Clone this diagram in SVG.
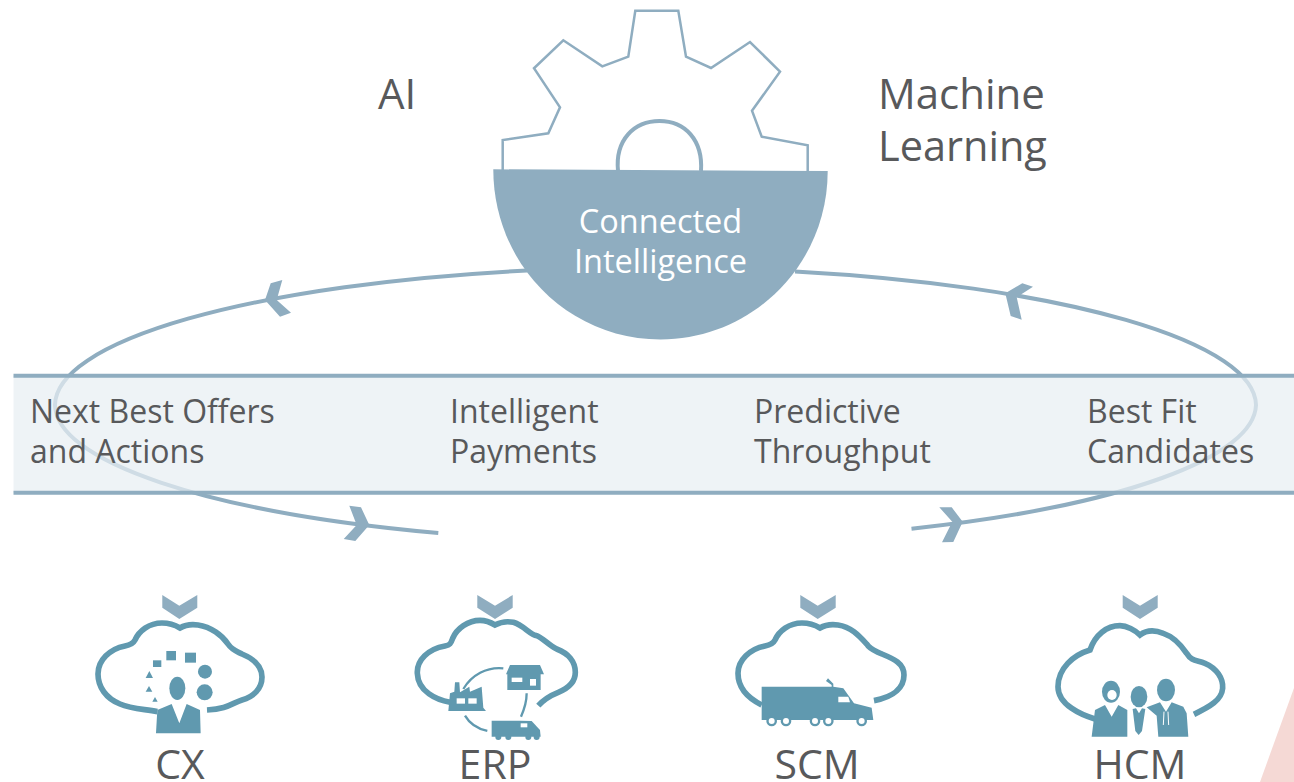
<svg xmlns="http://www.w3.org/2000/svg" width="1294" height="782" viewBox="0 0 1294 782">
<style>
text{font-family:"Open Sans","Liberation Sans",sans-serif;fill:#58595b}
.big{font-size:42px}
.mid{font-size:32px}
.wh{fill:#fff;font-size:32.5px;text-anchor:middle}
.ctr{font-size:41px;text-anchor:middle}
.conn{fill:none;stroke:#8fadc0;stroke-width:4}
.head{fill:#8fadc0}
.cloud{fill:none;stroke:#6099af;stroke-width:17;stroke-linecap:butt}
.ic{fill:#6099af}
.cut{fill:#fff}
.thin{fill:none;stroke:#6099af;stroke-width:7}
</style>
<defs>
<filter id="soft" x="-5%" y="-5%" width="110%" height="110%"><feGaussianBlur stdDeviation="1.4"/></filter>
</defs>
<polygon id="accent" points="1294,688 1294,782 1260,782" fill="#f5d9d5"/>
<g id="connectors">
<path class="conn" d="M438.3 533 A601 138 0 0 1 55 405 A601 138 0 0 1 527 270.5"/>
<path class="conn" d="M795 271.5 A600.5 138 0 0 1 1256 405 A600.5 138 0 0 1 911.5 528.7"/>
<polygon class="head" points="270.7,283.3 282.3,280 276.7,300 291,312.7 280,316.7 265,300"/>
<polygon class="head" points="1022.3,283.3 1033,286.7 1016.7,297.3 1021.7,319.7 1010.7,316 1005.3,293.3"/>
<polygon class="head" points="349.3,505.7 361,507.3 369.3,525 355.3,541 343.7,539 356.7,525"/>
<polygon class="head" points="939.3,507.3 951.7,507.3 962.7,521.7 953.3,542 942,542.3 952.3,521.7"/>
</g>
<g id="band">
<rect x="13.5" y="375.7" width="1281" height="117" fill="#e7eef2" fill-opacity=".72"/>
<path class="conn" d="M13.5 375.7H1294M13.5 492.7H1294"/>
<text class="mid" x="30" y="423">Next Best Offers</text>
<text class="mid" x="30" y="463">and Actions</text>
<text class="mid" x="450" y="423">Intelligent</text>
<text class="mid" x="450" y="463">Payments</text>
<text class="mid" x="754" y="423">Predictive</text>
<text class="mid" x="754" y="463">Throughput</text>
<text class="mid" x="1087" y="423">Best Fit</text>
<text class="mid" x="1087" y="463">Candidates</text>
</g>
<g id="gear">
<polyline fill="none" stroke="#8fadc0" stroke-width="2.5" points="502.7,171 502.7,140 548.3,133.3 560,107.3 534,68.3 563.3,40.3 602.3,66.3 628.3,56.7 635.3,10.7 678.3,10.7 686,56.7 711,68 750,42 780,71.7 752,110.7 761.7,136.7 807.7,145.3 807.7,172"/>
<path fill="none" stroke="#8fadc0" stroke-width="4" d="M618 171 C615 140 634 121 659.5 121 C685 121 703 140 701 171"/>
<path d="M493.3 169.3 L827.7 171 C827.7 265 752 339.5 660.5 339.5 C569 339.5 493.3 265 493.3 169.3Z" fill="#8fadc0"/>
<text class="wh" x="660.5" y="233">Connected</text>
<text class="wh" x="660.5" y="273">Intelligence</text>
</g>
<g id="label-ai"><text class="big" x="378" y="109">AI</text></g>
<g id="label-ml">
<text class="big" x="878" y="109">Machine</text>
<text class="big" x="878" y="161" style="font-size:41.5px">Learning</text>
</g>
<g id="cx">
<polygon class="head" points="162.3,595 179.3,605.7 197.3,595 197.3,607.7 179.3,619 162.3,607.7"/>
<g transform="translate(80 585) scale(.3333)" filter="url(#soft)">
<path class="cloud" d="M232 380C190 372 155 372 120 357C78 340 54 306 54 267C54 225 90 192 135 183C150 180 159 177 165 165C177 138 207 114 246 114C267 114 285 120 300 129C315 120 333 117 354 120C393 126 426 150 444 177C456 195 468 198 486 207C522 222 546 246 546 276C546 312 519 336 486 345C456 354 444 372 381 375"/>
<ellipse class="ic" cx="292" cy="310" rx="24" ry="35"/>
<polygon class="ic" points="228,445 232,375 275,357 298,415 320,357 360,375 362,445"/>
<rect class="ic" x="219" y="226" width="25" height="20"/>
<rect class="ic" x="259" y="198" width="29" height="28"/>
<rect class="ic" x="315" y="203" width="33" height="30"/>
<circle class="ic" cx="375" cy="260" r="21"/>
<circle class="ic" cx="374" cy="322" r="24"/>
<polygon class="ic" points="208,258 219,279 197,279"/>
<polygon class="ic" points="207,303 217,320 197,320"/>
<polygon class="ic" points="225,336 233,350 217,350"/>
</g>
<text class="ctr" x="180" y="779">CX</text>
</g>
<g id="erp">
<polygon class="head" points="477.3,595 495,605.7 512.7,595 512.7,607.7 495,619 477.3,607.7"/>
<g transform="translate(400 585) scale(.3333)" filter="url(#soft)">
<path class="cloud" d="M150 352C110 345 54 320 52 265C50 225 85 192 135 183C150 180 152 177 158 160C170 130 205 106 240 106C255 106 272 112 285 120C300 112 320 108 340 112C370 120 390 150 410 152C430 160 445 180 470 192C505 205 526 230 526 262C526 290 505 310 475 322C450 332 430 345 415 362"/>
<path class="thin" d="M190 312C215 270 260 245 310 250"/>
<path class="thin" d="M380 325C380 350 372 375 363 395"/>
<path class="thin" d="M195 392C210 418 235 432 262 438"/>
<polygon class="ic" points="145,378 150,325 163,320 165,292 178,292 180,322 208,305 210,320 245,305 250,368 258,378"/>
<rect class="cut" x="170" y="340" width="25" height="16"/>
<rect class="cut" x="205" y="340" width="25" height="16"/>
<polygon class="ic" points="330,240 420,240 432,268 422,268 422,315 322,315 322,268 318,268"/>
<rect class="cut" x="335" y="278" width="32" height="13"/>
<rect class="cut" x="390" y="282" width="18" height="20"/>
<polygon class="ic" points="275,407 360,407 395,408 420,435 422,455 275,455"/>
<rect class="cut" x="362" y="415" width="20" height="12"/>
<circle class="ic" cx="295" cy="456" r="9"/><circle class="ic" cx="325" cy="456" r="9"/><circle class="ic" cx="385" cy="456" r="9"/><circle class="ic" cx="410" cy="456" r="9"/>
</g>
<text class="ctr" x="495" y="779">ERP</text>
</g>
<g id="scm">
<polygon class="head" points="800.3,595 817.7,605.7 835.7,595 835.7,607.7 817.7,619 800.3,607.7"/>
<g transform="translate(720 585) scale(.3333)" filter="url(#soft)">
<path class="cloud" d="M125 360C85 340 54 310 54 265C54 225 90 192 135 183C150 180 159 177 165 165C177 138 207 114 246 114C267 114 285 120 300 129C315 120 333 117 354 120C393 126 415 150 440 177C450 195 468 198 486 207C522 222 552 235 552 270C552 305 525 335 462 347"/>
<polygon class="ic" points="125,305 335,305 335,300 318,288 324,280 340,296 340,305 370,310 402,355 455,368 460,405 125,405"/>
<polygon class="cut" points="355,335 385,335 390,352 355,352"/>
<g class="ic"><circle cx="155" cy="408" r="16"/><circle cx="198" cy="408" r="16"/><circle cx="285" cy="408" r="16"/><circle cx="325" cy="408" r="16"/><circle cx="425" cy="408" r="16"/></g>
<g class="cut"><circle cx="155" cy="408" r="9"/><circle cx="198" cy="408" r="9"/><circle cx="285" cy="408" r="9"/><circle cx="325" cy="408" r="9"/><circle cx="425" cy="408" r="9"/></g>
</g>
<text class="ctr" x="817" y="779">SCM</text>
</g>
<g id="hcm">
<polygon class="head" points="1122.7,595 1140,605.7 1157.7,595 1157.7,607.7 1140,619 1122.7,607.7"/>
<g transform="translate(1040 585) scale(.3333)" filter="url(#soft)">
<path class="cloud" d="M165 402C125 390 54 360 54 305C54 250 100 210 150 195C165 150 200 122 240 122C260 122 285 135 300 150C320 135 345 135 370 145C400 155 420 175 440 205C455 230 470 225 495 235C530 250 550 280 548 310C545 345 510 365 462 388"/>
<ellipse class="ic" cx="213" cy="320" rx="27" ry="33"/>
<ellipse class="cut" cx="216" cy="330" rx="14" ry="15"/>
<polygon class="ic" points="155,455 165,375 195,360 215,395 235,360 262,375 262,455"/>
<ellipse class="ic" cx="297" cy="335" rx="25" ry="32"/>
<polygon class="ic" points="278,372 288,370 297,385 306,370 316,372 306,438 296,450 286,438"/>
<ellipse class="ic" cx="378" cy="315" rx="27" ry="34"/>
<polygon class="ic" points="320,367 360,352 378,380 395,352 430,365 440,385 445,455 355,455 350,392"/>
<path d="M372 380L370 420M384 380L386 420" stroke="#fff" stroke-width="3" fill="none"/>
</g>
<text class="ctr" x="1140" y="779">HCM</text>
</g>
</svg>
